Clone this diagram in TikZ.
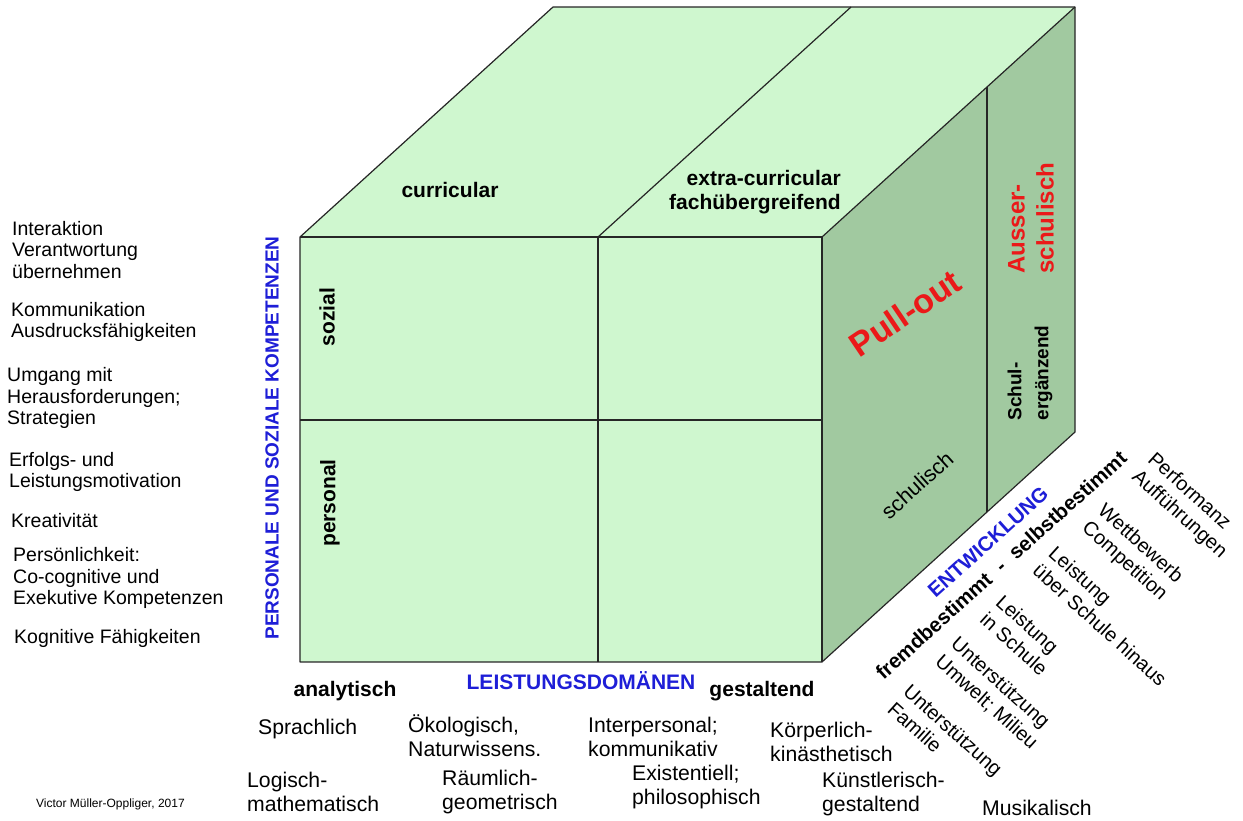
\documentclass[tikz,border=0pt]{standalone}
\usepackage{fontspec}
\setmainfont{Liberation Sans}
\definecolor{facelight}{RGB}{207,247,207}
\definecolor{faceside}{RGB}{161,201,160}
\definecolor{axisblue}{RGB}{30,30,215}
\definecolor{pullred}{RGB}{235,25,25}

\begin{document}
\begin{tikzpicture}[x=1pt, y=-1pt,
  edge/.style={draw=black!85, line width=1.2pt, line join=round},
  listtext/.style={font=\fontsize{19.5}{21.5}\selectfont, align=left, inner sep=0pt, anchor=west},
  dombox/.style={font=\fontsize{21.2}{24}\selectfont, align=left, inner sep=0pt, anchor=west},
  pole/.style={font=\fontsize{21}{23.5}\selectfont\bfseries, inner sep=0pt},
  axislabel/.style={font=\fontsize{21}{23.5}\selectfont\bfseries, text=axisblue, inner sep=0pt},
  route/.style={font=\fontsize{20}{23.5}\selectfont, align=left, inner sep=0pt, rotate=-42}
]
\useasboundingbox (0,0) rectangle (1243,820);

% cube corners
\coordinate (fa) at (300,237);
\coordinate (fb) at (822,237);
\coordinate (fc) at (822,662);
\coordinate (fd) at (300,662);
\coordinate (ba) at (553,7);
\coordinate (bb) at (1075,7);
\coordinate (bc) at (1075,432);

% faces
\fill[facelight] (fa) -- (ba) -- (bb) -- (fb) -- cycle;
\fill[facelight] (fa) rectangle (fc);
\fill[faceside] (fb) -- (bb) -- (bc) -- (fc) -- cycle;

% dividers
\draw[edge] (598,237) -- (598,662);
\draw[edge] (598,237) -- (851,7);
\draw[edge] (300,420) -- (822,420);
\draw[edge] (987,87) -- (987,512);

% outline
\draw[edge] (fa) -- (ba) -- (bb) -- (bc) -- (fc) -- (fd) -- cycle;
\draw[edge] (fa) -- (fb) -- (fc);
\draw[edge] (fb) -- (bb);

% top face
\node[pole] (curr) at (450,190) {curricular};
\node[pole, align=right] (extra) at (755,192) {extra-curricular\\fachübergreifend};

% front face
\node[pole, rotate=90] (sozial) at (327,317) {sozial};
\node[pole, rotate=90] (personal) at (330,503) {personal};
\node[axislabel, rotate=90, font=\fontsize{19}{22}\selectfont\bfseries] (psk) at (272,438) {PERSONALE UND SOZIALE KOMPETENZEN};

% side face
\node[font=\fontsize{34}{38}\selectfont\bfseries, text=pullred, rotate=34, inner sep=0pt] (pull) at (905,313) {Pull-out};
\node[font=\fontsize{24}{29}\selectfont\bfseries, text=pullred, rotate=90, align=left, inner sep=0pt] (ausser) at (1031,218) {Ausser-\\schulisch};
\node[font=\fontsize{19}{27}\selectfont\bfseries, rotate=90, align=left, inner sep=0pt] (ergaenz) at (1030,373) {Schul-\\ergänzend};
\node[font=\fontsize{21.5}{24}\selectfont, rotate=42, inner sep=0pt] (schulisch) at (917,485) {schulisch};

% depth axis
\node[axislabel, rotate=42, font=\fontsize{20.5}{23.5}\selectfont\bfseries] (entw) at (988,542) {ENTWICKLUNG};
\node[pole, rotate=42, font=\fontsize{20.5}{23.5}\selectfont\bfseries] (bestimmt) at (1001,565) {fremdbestimmt\hspace{12pt}-\hspace{12pt}selbstbestimmt};
\node[route] (perf) at (1187,506) {Performanz\\Aufführungen};
\node[route] (wett) at (1132,553) {Wettbewerb\\Competition};
\node[route] (ueber) at (1108,616) {Leistung\\über Schule hinaus};
\node[route] (inschule) at (1022,635) {Leistung\\in Schule};
\node[route] (umwelt) at (994,694) {Unterstützung\\Umwelt; Milieu};
\node[route] (familie) at (945,739) {Unterstützung\\Familie};

% left list
\node[listtext] (interakt) at (12,250) {Interaktion\\Verantwortung\\übernehmen};
\node[listtext] (kommu) at (11,322) {Kommunikation\\Ausdrucksfähigkeiten};
\node[listtext] (umgang) at (7,398) {Umgang mit\\Herausforderungen;\\Strategien};
\node[listtext] (erfolg) at (9,472) {Erfolgs- und\\Leistungsmotivation};
\node[listtext] (kreativ) at (11,521) {Kreativität};
\node[listtext] (persoenl) at (13,578) {Persönlichkeit:\\Co-cognitive und\\Exekutive Kompetenzen};
\node[listtext] (kognitiv) at (14,638) {Kognitive Fähigkeiten};

% bottom
\node[pole] (analyt) at (345,691) {analytisch};
\node[axislabel] (ld) at (581,681) {LEISTUNGSDOMÄNEN};
\node[pole] (gestalt) at (762,691) {gestaltend};
\node[dombox] (sprach) at (258,729) {Sprachlich};
\node[dombox] (oeko) at (408,736) {Ökologisch,\\Naturwissens.};
\node[dombox] (inter) at (588,737) {Interpersonal;\\kommunikativ};
\node[dombox] (koerper) at (770,742) {Körperlich-\\kinästhetisch};
\node[dombox] (logisch) at (247,792) {Logisch-\\mathematisch};
\node[dombox] (raum) at (442,792) {Räumlich-\\geometrisch};
\node[dombox] (exist) at (632,787) {Existentiell;\\philosophisch};
\node[dombox] (kuenstl) at (822,794) {Künstlerisch-\\gestaltend};
\node[dombox] (musik) at (982,808) {Musikalisch};

\node[font=\fontsize{12}{14}\selectfont, inner sep=0pt, anchor=west] (credit) at (36,804) {Victor Müller-Oppliger, 2017};
\end{tikzpicture}
\end{document}
